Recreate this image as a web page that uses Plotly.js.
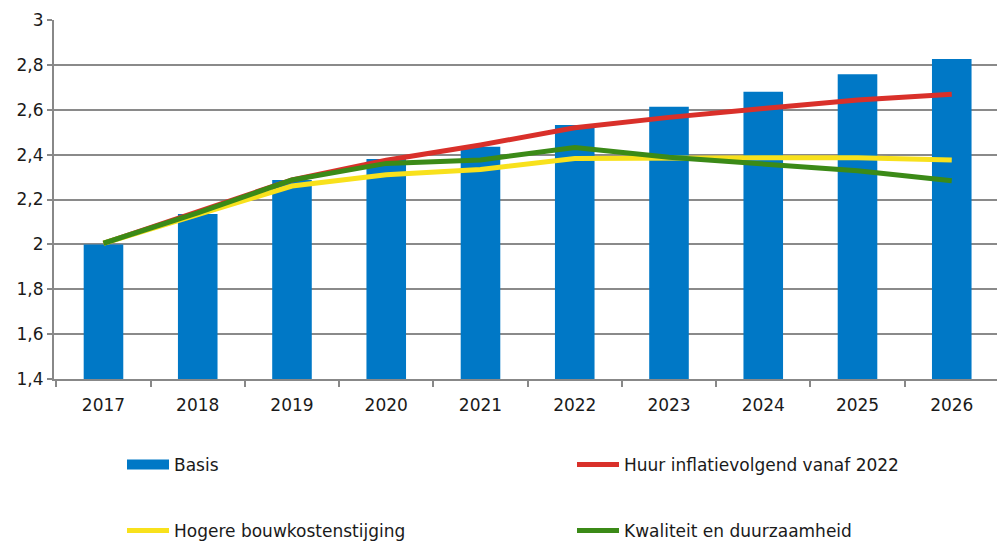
<!DOCTYPE html>
<html><head><meta charset="utf-8">
<script src="https://cdn.plot.ly/plotly-3.0.1.min.js"></script>
<style>html,body{margin:0;padding:0;background:#fff}#chart{width:998px;height:542px}</style>
</head><body><div id="chart"></div>
<script>
const years = ['2017','2018','2019','2020','2021','2022','2023','2024','2025','2026'];
const basis = [2.00,2.135,2.287,2.38,2.435,2.532,2.613,2.68,2.758,2.826];
const huur = [2.005,2.145,2.287,2.375,2.443,2.52,2.566,2.606,2.643,2.669];
const bouwkosten = [2.005,2.135,2.26,2.31,2.334,2.383,2.386,2.386,2.386,2.376];
const kwaliteit = [2.005,2.14,2.287,2.361,2.376,2.432,2.388,2.358,2.328,2.284];

const FONT = 'DejaVu Sans, Verdana, sans-serif';
const TXT = '#1a1a1a';
const data = [
  {type:'bar', x:years, y:basis, name:'Basis', marker:{color:'#0078C6'}, width:0.42, showlegend:false},
  {type:'scatter', mode:'lines', x:[null], y:[null], name:'Basis', line:{color:'#0078C6', width:10}, legend:'legend'},
  {type:'scatter', mode:'lines', x:years, y:huur, name:'Huur inflatievolgend vanaf 2022', line:{color:'#D9302A', width:5}, legend:'legend2'},
  {type:'scatter', mode:'lines', x:years, y:bouwkosten, name:'Hogere bouwkostenstijging', line:{color:'#F8E11C', width:5}, legend:'legend3'},
  {type:'scatter', mode:'lines', x:years, y:kwaliteit, name:'Kwaliteit en duurzaamheid', line:{color:'#3B8A17', width:5}, legend:'legend4'}
];
function leg(xpx, ypx) {
  return {orientation:'h', xref:'container', yref:'container', xanchor:'left', yanchor:'middle',
    x:xpx/998, y:1-ypx/542, itemwidth:42, font:{family:FONT, size:17, color:TXT}, bgcolor:'rgba(0,0,0,0)'};
}
const layout = {
  width:998, height:542,
  margin:{l:54, r:1, t:20, b:163},
  paper_bgcolor:'#fff', plot_bgcolor:'#fff',
  separators:',.',
  font:{family:FONT, size:17, color:TXT},
  xaxis:{type:'category', range:[-0.525, 9.48], tickson:'boundaries', ticks:'outside', ticklen:6, tickwidth:2, tickcolor:'#888',
    ticklabelstandoff:10,
    showgrid:false, showline:true, linecolor:'#888', linewidth:2, tickfont:{family:FONT, size:17, color:TXT}},
  yaxis:{range:[1.4,3], dtick:0.2, tick0:1.4, ticks:'outside', ticklen:5, tickwidth:2, tickcolor:'#888',
    showgrid:true, gridcolor:'#8a8a8a', gridwidth:2, showline:true, linecolor:'#888', linewidth:2, zeroline:false,
    tickfont:{family:FONT, size:17, color:TXT}},
  legend:leg(122, 465),
  legend2:leg(572, 465),
  legend3:leg(122, 531),
  legend4:leg(572, 531)
};
Plotly.newPlot('chart', data, layout, {staticPlot:true, displayModeBar:false});
</script></body></html>
